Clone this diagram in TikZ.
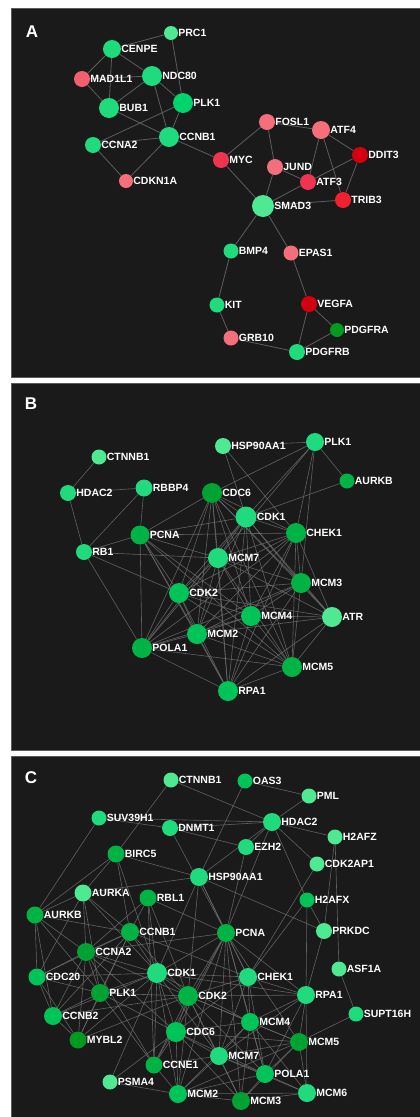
\documentclass[tikz,border=0pt]{standalone}
\usepackage{fontspec}
\setmainfont{Liberation Sans}
\pgfdeclarelayer{bgpanel}
\pgfdeclarelayer{edges}
\pgfsetlayers{bgpanel,edges,main}
\definecolor{panel}{HTML}{1A1A1A}
\definecolor{pborder}{HTML}{5A5A5A}
\definecolor{edgeA}{HTML}{5E5E5E}
\definecolor{edgeB}{HTML}{6E6E6E}
\definecolor{lg}{HTML}{4FE893}
\definecolor{mg}{HTML}{1FDB7E}
\definecolor{bg}{HTML}{00D46A}
\definecolor{g1}{HTML}{00C457}
\definecolor{g2}{HTML}{00B344}
\definecolor{g3}{HTML}{00A333}
\definecolor{g4}{HTML}{009A20}
\definecolor{pk}{HTML}{F46E7C}
\definecolor{pk2}{HTML}{F2606F}
\definecolor{rd}{HTML}{EE3450}
\definecolor{rd2}{HTML}{F2202F}
\definecolor{drd}{HTML}{D40010}
\tikzset{
  gnode/.style={circle,draw=none,inner sep=0pt,label distance=1.5pt},
  lab/.style={text=white,font=\fontsize{10.5}{12}\selectfont\bfseries,inner sep=0pt},
  edgeline/.style={draw=edgeA,line width=0.8pt},
  edgeline2/.style={draw=edgeB,line width=0.6pt,opacity=0.85},
  panelbox/.style={fill=panel,draw=pborder,line width=1pt},
  letter/.style={text=white,font=\fontsize{17}{20}\selectfont\bfseries,inner sep=0pt}
}
\newcommand\gn[6]{\node[gnode,minimum size=#4pt,fill=#5,label={[lab]0:#6}] (#1) at (#2,#3) {};}
\begin{document}
\begin{tikzpicture}[x=1pt,y=-1pt]
\useasboundingbox (0,0) rectangle (420,1117);
\begin{pgfonlayer}{bgpanel}
\fill[white] (0,0) rectangle (420,1117);
\draw[panelbox] (11,8) rectangle (424,377);
\draw[panelbox] (11,383) rectangle (424,750);
\draw[panelbox] (11,756) rectangle (424,1122);
\end{pgfonlayer}
\node[letter] (lA) at (32,32) {A};
\node[letter] (lB) at (31,404) {B};
\node[letter] (lC) at (31,778) {C};
% ---------- Panel A ----------
\gn{aPRC1}{171}{33}{14}{lg}{PRC1}
\gn{aCENPE}{112}{49}{18}{mg}{CENPE}
\gn{aMAD1L1}{82}{79}{16}{pk2}{MAD1L1}
\gn{aNDC80}{152}{76}{20}{mg}{NDC80}
\gn{aBUB1}{109}{108}{20}{mg}{BUB1}
\gn{aPLK1}{183}{103}{20}{bg}{PLK1}
\gn{aCCNA2}{93}{145}{16}{mg}{CCNA2}
\gn{aCCNB1}{169}{137}{20}{mg}{CCNB1}
\gn{aCDKN1A}{126}{181}{14}{pk}{CDKN1A}
\gn{aMYC}{221}{160}{16}{rd}{MYC}
\gn{aFOSL1}{267}{122}{16}{pk}{FOSL1}
\gn{aATF4}{321}{130}{18}{pk}{ATF4}
\gn{aDDIT3}{360}{155}{16}{drd}{DDIT3}
\gn{aJUND}{275}{167}{16}{pk}{JUND}
\gn{aATF3}{308}{182}{16}{rd}{ATF3}
\gn{aTRIB3}{343}{200}{16}{rd2}{TRIB3}
\gn{aSMAD3}{263}{206}{22}{lg}{SMAD3}
\gn{aBMP4}{231}{251}{15}{mg}{BMP4}
\gn{aEPAS1}{291}{253}{15}{pk}{EPAS1}
\gn{aKIT}{217}{305}{15}{mg}{KIT}
\gn{aVEGFA}{309}{304}{16}{drd}{VEGFA}
\gn{aPDGFRA}{337}{330}{14}{g4}{PDGFRA}
\gn{aGRB10}{231}{338}{15}{pk}{GRB10}
\gn{aPDGFRB}{297}{352}{16}{mg}{PDGFRB}
\begin{pgfonlayer}{edges}
\foreach \u/\v in {PRC1/CENPE,PRC1/PLK1,CENPE/MAD1L1,CENPE/BUB1,CENPE/NDC80,MAD1L1/NDC80,MAD1L1/BUB1,NDC80/BUB1,NDC80/PLK1,NDC80/CCNB1,BUB1/CCNB1,PLK1/CCNB1,CCNA2/PLK1,CCNA2/CCNB1,CCNA2/CDKN1A,CCNB1/CDKN1A,CCNB1/MYC,MYC/FOSL1,MYC/SMAD3,FOSL1/JUND,FOSL1/ATF4,ATF4/DDIT3,ATF4/ATF3,ATF4/TRIB3,DDIT3/ATF3,DDIT3/TRIB3,JUND/ATF3,JUND/SMAD3,ATF3/SMAD3,SMAD3/TRIB3,SMAD3/BMP4,SMAD3/EPAS1,BMP4/KIT,KIT/GRB10,EPAS1/VEGFA,VEGFA/PDGFRA,VEGFA/PDGFRB,PDGFRA/PDGFRB,GRB10/PDGFRB}
  \draw[edgeline] (a\u) -- (a\v);
\end{pgfonlayer}
% ---------- Panel B ----------
\gn{bHSP90AA1}{223}{446}{16}{lg}{HSP90AA1}
\gn{bPLK1}{315}{442}{18}{mg}{PLK1}
\gn{bCTNNB1}{99}{457}{15}{lg}{CTNNB1}
\gn{bAURKB}{347}{481}{15}{g2}{AURKB}
\gn{bHDAC2}{68}{493}{16}{mg}{HDAC2}
\gn{bRBBP4}{144}{488}{17}{mg}{RBBP4}
\gn{bCDC6}{212}{493}{20}{g3}{CDC6}
\gn{bCDK1}{246}{517}{21}{mg}{CDK1}
\gn{bCHEK1}{296}{533}{20}{g2}{CHEK1}
\gn{bPCNA}{140}{535}{19}{g2}{PCNA}
\gn{bRB1}{84}{552}{16}{mg}{RB1}
\gn{bMCM7}{218}{558}{20}{mg}{MCM7}
\gn{bMCM3}{301}{583}{20}{g2}{MCM3}
\gn{bCDK2}{179}{593}{20}{g1}{CDK2}
\gn{bMCM4}{251}{616}{20}{g1}{MCM4}
\gn{bATR}{332}{617}{20}{lg}{ATR}
\gn{bMCM2}{197}{634}{20}{g1}{MCM2}
\gn{bPOLA1}{142}{648}{20}{g2}{POLA1}
\gn{bMCM5}{292}{667}{20}{g2}{MCM5}
\gn{bRPA1}{228}{691}{20}{g1}{RPA1}
\begin{pgfonlayer}{edges}
\foreach \u/\v in {CTNNB1/HDAC2,HDAC2/RBBP4,HDAC2/RB1,RBBP4/RB1,RBBP4/PCNA,HSP90AA1/PLK1,HSP90AA1/CDK1,HSP90AA1/CHEK1,PLK1/AURKB,PLK1/CDC6,PLK1/CDK1,PLK1/MCM7,PLK1/CHEK1,PLK1/MCM3,AURKB/CDK1,RB1/PCNA,RB1/MCM7,RB1/POLA1,RB1/CDK2,PCNA/CDK1,PCNA/CHEK1,PCNA/MCM7,PCNA/CDK2,PCNA/MCM2,PCNA/POLA1,PCNA/RPA1,PCNA/MCM4,PCNA/MCM5,PCNA/CDC6,CDC6/CDK1,CDC6/CHEK1,CDC6/MCM7,CDC6/CDK2,CDC6/MCM2,CDC6/MCM4,CDC6/MCM3,CDC6/MCM5,CDC6/POLA1,CDC6/RPA1,CDC6/ATR,CDK1/CHEK1,CDK1/MCM7,CDK1/CDK2,CDK1/MCM2,CDK1/MCM4,CDK1/MCM3,CDK1/MCM5,CDK1/RPA1,CDK1/POLA1,CDK1/ATR,CHEK1/MCM7,CHEK1/CDK2,CHEK1/MCM2,CHEK1/MCM4,CHEK1/MCM3,CHEK1/ATR,CHEK1/MCM5,CHEK1/RPA1,CHEK1/POLA1,MCM7/CDK2,MCM7/MCM2,MCM7/MCM4,MCM7/MCM3,MCM7/MCM5,MCM7/RPA1,MCM7/POLA1,MCM7/ATR,MCM3/MCM4,MCM3/MCM2,MCM3/MCM5,MCM3/ATR,MCM3/CDK2,MCM3/RPA1,MCM3/POLA1,CDK2/MCM2,CDK2/MCM4,CDK2/POLA1,CDK2/RPA1,CDK2/MCM5,CDK2/ATR,MCM4/MCM2,MCM4/ATR,MCM4/MCM5,MCM4/RPA1,MCM4/POLA1,MCM2/POLA1,MCM2/RPA1,MCM2/MCM5,MCM2/ATR,POLA1/RPA1,POLA1/MCM5,MCM5/RPA1,MCM5/ATR,RPA1/ATR}
  \draw[edgeline2] (b\u) -- (b\v);
\end{pgfonlayer}
% ---------- Panel C ----------
\gn{cCTNNB1}{171}{780}{15}{lg}{CTNNB1}
\gn{cOAS3}{245}{781}{15}{g1}{OAS3}
\gn{cPML}{309}{796}{15}{lg}{PML}
\gn{cSUV39H1}{99}{818}{15}{mg}{SUV39H1}
\gn{cDNMT1}{170}{828}{16}{mg}{DNMT1}
\gn{cHDAC2}{272}{822}{18}{mg}{HDAC2}
\gn{cH2AFZ}{335}{837}{15}{lg}{H2AFZ}
\gn{cEZH2}{246}{847}{16}{mg}{EZH2}
\gn{cBIRC5}{116}{854}{17}{g2}{BIRC5}
\gn{cCDK2AP1}{317}{864}{15}{lg}{CDK2AP1}
\gn{cHSP90AA1}{199}{877}{18}{mg}{HSP90AA1}
\gn{cAURKA}{83}{893}{17}{lg}{AURKA}
\gn{cRBL1}{148}{898}{17}{g2}{RBL1}
\gn{cH2AFX}{307}{900}{15}{g1}{H2AFX}
\gn{cAURKB}{35}{915}{17}{g2}{AURKB}
\gn{cCCNB1}{130}{932}{18}{g2}{CCNB1}
\gn{cPCNA}{226}{933}{18}{g2}{PCNA}
\gn{cPRKDC}{324}{931}{16}{lg}{PRKDC}
\gn{cCCNA2}{86}{952}{18}{g3}{CCNA2}
\gn{cASF1A}{339}{969}{15}{lg}{ASF1A}
\gn{cCDC20}{37}{977}{17}{g1}{CDC20}
\gn{cCDK1}{157}{973}{20}{mg}{CDK1}
\gn{cCHEK1}{248}{977}{18}{mg}{CHEK1}
\gn{cPLK1}{100}{993}{18}{g3}{PLK1}
\gn{cCDK2}{188}{996}{20}{g2}{CDK2}
\gn{cRPA1}{306}{995}{18}{mg}{RPA1}
\gn{cSUPT16H}{356}{1014}{15}{mg}{SUPT16H}
\gn{cCCNB2}{53}{1016}{18}{g1}{CCNB2}
\gn{cMCM4}{250}{1022}{18}{g1}{MCM4}
\gn{cCDC6}{176}{1032}{20}{g1}{CDC6}
\gn{cMCM5}{299}{1042}{18}{g3}{MCM5}
\gn{cMYBL2}{78}{1040}{17}{g4}{MYBL2}
\gn{cMCM7}{219}{1056}{18}{mg}{MCM7}
\gn{cCCNE1}{154}{1065}{17}{g2}{CCNE1}
\gn{cPOLA1}{265}{1074}{18}{g1}{POLA1}
\gn{cPSMA4}{110}{1082}{15}{lg}{PSMA4}
\gn{cMCM2}{178}{1094}{18}{g1}{MCM2}
\gn{cMCM6}{307}{1093}{18}{mg}{MCM6}
\gn{cMCM3}{241}{1101}{18}{g3}{MCM3}
\begin{pgfonlayer}{edges}
\foreach \u/\v in {CTNNB1/HDAC2,CTNNB1/BIRC5,OAS3/PML,OAS3/HSP90AA1,PML/HDAC2,SUV39H1/DNMT1,SUV39H1/HDAC2,SUV39H1/AURKB,DNMT1/HDAC2,DNMT1/EZH2,DNMT1/PCNA,HDAC2/H2AFZ,HDAC2/EZH2,HDAC2/CDK2AP1,HDAC2/HSP90AA1,HDAC2/H2AFX,HDAC2/PCNA,EZH2/PCNA,H2AFZ/PRKDC,H2AFZ/ASF1A,CDK2AP1/CHEK1,BIRC5/HSP90AA1,BIRC5/AURKA,BIRC5/AURKB,BIRC5/CCNB1,BIRC5/CDK1,HSP90AA1/AURKA,HSP90AA1/PRKDC,HSP90AA1/CDK1,HSP90AA1/CDK2,HSP90AA1/CHEK1,HSP90AA1/PCNA,AURKA/AURKB,AURKA/CCNB1,AURKA/CDC20,AURKA/PLK1,AURKA/CCNA2,AURKA/CDK1,AURKB/CDC20,AURKB/CCNB2,AURKB/PLK1,AURKB/CCNB1,AURKB/CCNA2,RBL1/CCNB1,RBL1/CDK1,RBL1/CDK2,RBL1/CCNA2,RBL1/CCNE1,RBL1/PCNA,H2AFX/PRKDC,H2AFX/RPA1,H2AFX/CHEK1,PRKDC/RPA1,PCNA/CDK1,PCNA/CDK2,PCNA/CHEK1,PCNA/RPA1,PCNA/MCM4,PCNA/CDC6,PCNA/MCM7,PCNA/POLA1,PCNA/MCM2,PCNA/MCM3,PCNA/MCM5,PCNA/CCNA2,PCNA/CCNE1,CCNB1/CCNA2,CCNB1/CDK1,CCNB1/CDK2,CCNB1/PLK1,CCNB1/CDC20,CCNB1/CCNB2,CCNB1/MYBL2,CCNB1/CHEK1,CCNA2/CDK1,CCNA2/CDK2,CCNA2/PLK1,CCNA2/CDC20,CCNA2/CCNB2,CCNA2/MYBL2,CCNA2/CDC6,CCNA2/CCNE1,CDC20/PLK1,CDC20/CCNB2,CDC20/MYBL2,CDC20/CDK1,CDK1/PLK1,CDK1/CDK2,CDK1/CHEK1,CDK1/CCNB2,CDK1/MYBL2,CDK1/CDC6,CDK1/CCNE1,CDK1/MCM7,CDK1/MCM4,CDK1/MCM2,CDK1/RPA1,CHEK1/CDK2,CHEK1/RPA1,CHEK1/MCM4,CHEK1/CDC6,CHEK1/MCM7,CHEK1/POLA1,PLK1/CDK2,PLK1/CCNB2,PLK1/MYBL2,PLK1/CDC6,PLK1/CCNE1,CDK2/CDC6,CDK2/MCM4,CDK2/CCNE1,CDK2/MCM7,CDK2/RPA1,CDK2/MCM2,CDK2/MCM3,CDK2/POLA1,CDK2/MYBL2,CDK2/CCNB2,CDK2/MCM5,RPA1/MCM4,RPA1/MCM5,RPA1/POLA1,RPA1/MCM6,RPA1/MCM7,ASF1A/SUPT16H,SUPT16H/MCM5,CCNB2/MYBL2,MCM4/MCM5,MCM4/MCM7,MCM4/CDC6,MCM4/POLA1,MCM4/MCM2,MCM4/MCM3,MCM4/MCM6,CDC6/MCM7,CDC6/CCNE1,CDC6/MCM2,CDC6/MCM3,CDC6/MCM5,CDC6/POLA1,CDC6/PSMA4,MCM5/MCM7,MCM5/POLA1,MCM5/MCM6,MCM5/MCM2,MCM5/MCM3,MCM7/POLA1,MCM7/MCM2,MCM7/MCM3,MCM7/MCM6,MCM7/CCNE1,CCNE1/MCM2,POLA1/MCM2,POLA1/MCM3,POLA1/MCM6,PSMA4/MCM2,MCM2/MCM3,MCM2/MCM6,MCM3/MCM6,PSMA4/CDK1}
  \draw[edgeline2] (c\u) -- (c\v);
\end{pgfonlayer}
\end{tikzpicture}
\end{document}
